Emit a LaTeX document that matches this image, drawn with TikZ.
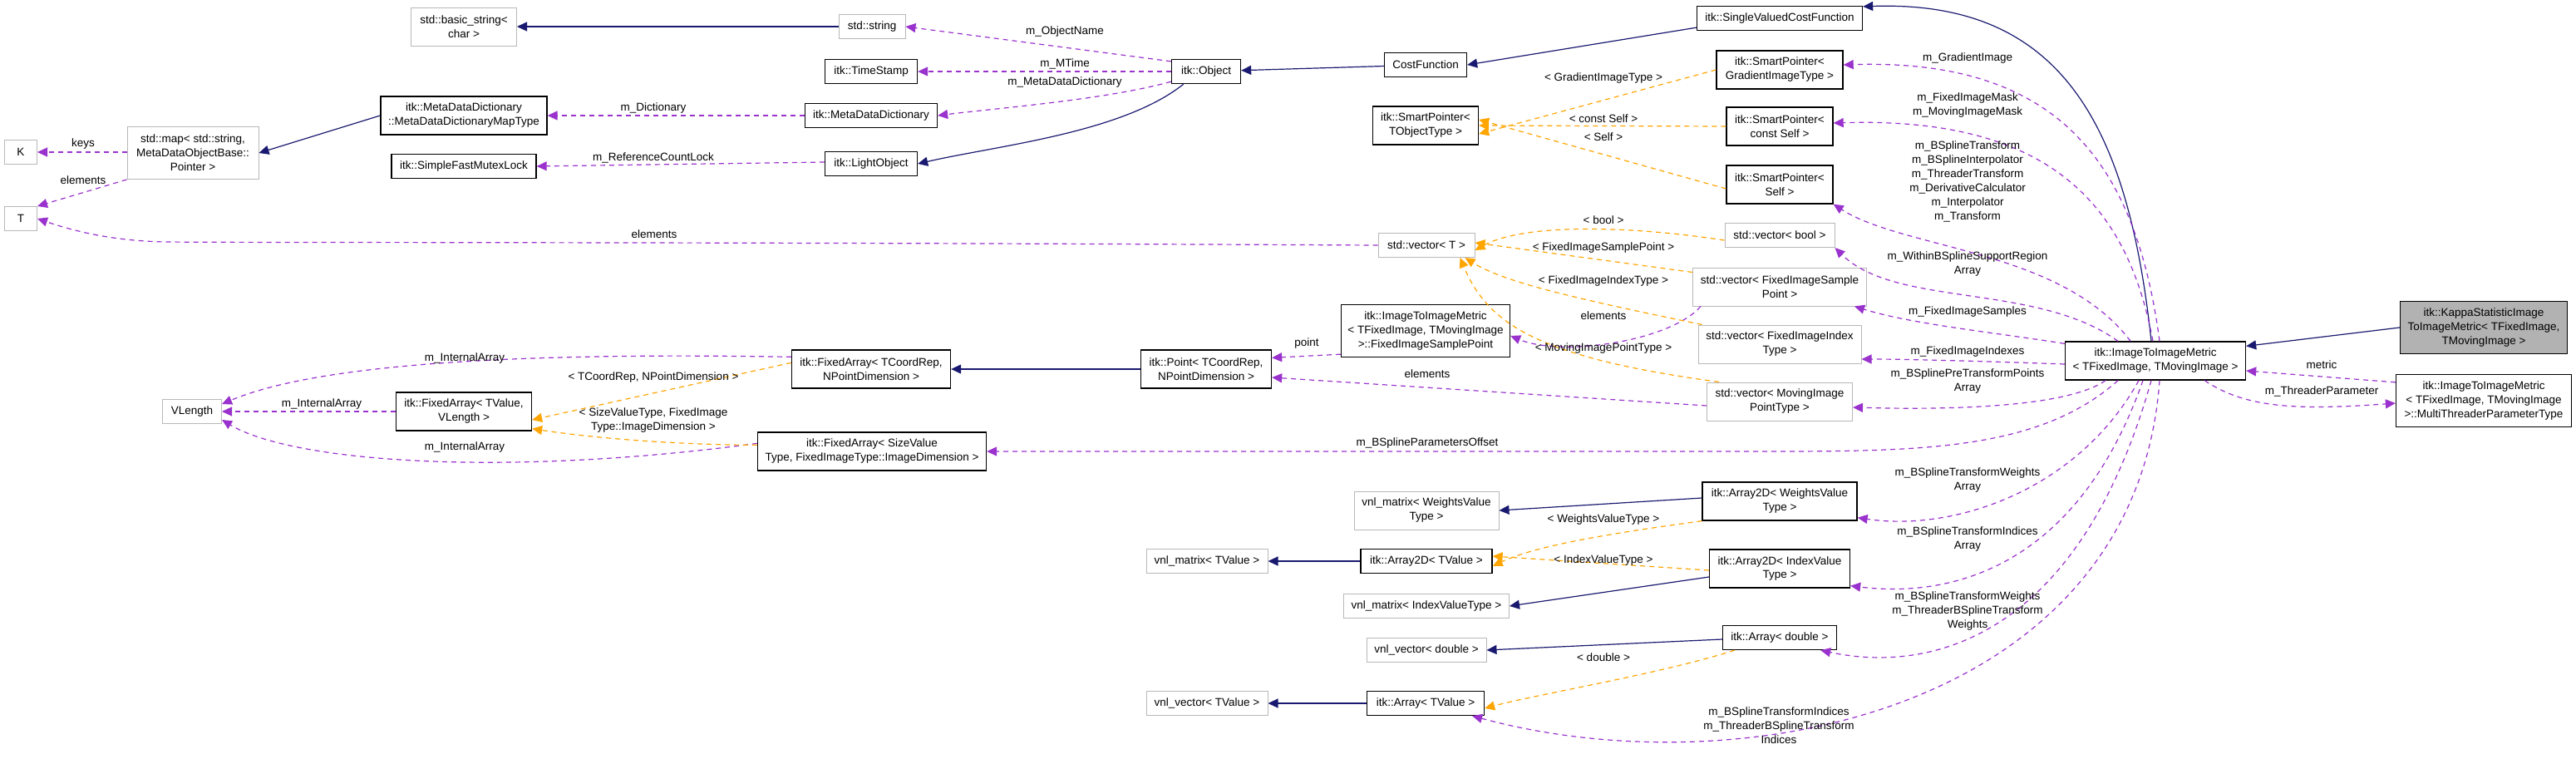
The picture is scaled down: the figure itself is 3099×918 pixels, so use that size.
\documentclass[tikz,border=0pt]{standalone}
\usepackage{fontspec}
\setmainfont{Liberation Sans}
\usetikzlibrary{arrows.meta}
\definecolor{navy}{HTML}{191970}
\definecolor{usec}{HTML}{9A32CD}
\definecolor{tplc}{HTML}{FFA500}
\tikzset{
 x=1pt,y=-1pt,
 box/.style={draw=black,line width=1.3pt,fill=white,align=center,inner sep=2pt,font=\fontsize{13.5}{17}\selectfont},
 gbox/.style={box,draw=black!28,line width=1pt},
 kbox/.style={box,fill=black!30},
 inh/.style={draw=navy,line width=1.2pt,-{Triangle[length=12pt,width=11pt]}},
 use/.style={draw=usec,line width=1.2pt,dash pattern=on 6pt off 5pt,-{Triangle[length=12pt,width=11pt]}},
 tpl/.style={draw=tplc,line width=1.2pt,dash pattern=on 6pt off 5pt,-{Triangle[length=12pt,width=11pt]}},
 lbl/.style={align=center,inner sep=0pt,font=\fontsize{13.5}{17}\selectfont},
}
\begin{document}
\begin{tikzpicture}
\useasboundingbox[fill=white] (0,0) rectangle (3099,918);
% nodes
\node[gbox,minimum width=127pt,minimum height=46pt] (bs) at (558,32) {std::basic\_string\textless\\char \textgreater};
\node[gbox,minimum width=80pt,minimum height=29pt] (str) at (1049,32) {std::string};
\node[box,minimum width=111pt,minimum height=29pt] (ts) at (1048,86) {itk::TimeStamp};
\node[box,minimum width=83pt,minimum height=29pt] (obj) at (1451,86) {itk::Object};
\node[box,minimum width=99pt,minimum height=29pt] (cf) at (1715,78) {CostFunction};
\node[box,minimum width=199pt,minimum height=29pt] (svcf) at (2141,22) {itk::SingleValuedCostFunction};
\node[box,minimum width=200pt,minimum height=46pt] (mt) at (558,139) {itk::MetaDataDictionary\\::MetaDataDictionaryMapType};
\node[box,minimum width=159pt,minimum height=29pt] (mdd) at (1048,139) {itk::MetaDataDictionary};
\node[gbox,minimum width=158pt,minimum height=63pt] (map) at (232,184) {std::map\textless{} std::string,\\MetaDataObjectBase::\\Pointer \textgreater};
\node[gbox,minimum width=39pt,minimum height=29pt] (K) at (25,183) {K};
\node[box,minimum width=174pt,minimum height=29pt] (mutex) at (558,200) {itk::SimpleFastMutexLock};
\node[box,minimum width=111pt,minimum height=29pt] (lo) at (1048,197) {itk::LightObject};
\node[gbox,minimum width=39pt,minimum height=29pt] (T) at (25,263) {T};
\node[box,minimum width=127pt,minimum height=46pt] (spo) at (1715,151) {itk::SmartPointer\textless\\TObjectType \textgreater};
\node[box,minimum width=152pt,minimum height=46pt] (spg) at (2141,84) {itk::SmartPointer\textless\\GradientImageType \textgreater};
\node[box,minimum width=128pt,minimum height=46pt] (spc) at (2141,152) {itk::SmartPointer\textless\\const Self \textgreater};
\node[box,minimum width=128pt,minimum height=46pt] (sps) at (2141,222) {itk::SmartPointer\textless\\Self \textgreater};
\node[gbox,minimum width=132pt,minimum height=29pt] (vb) at (2141,283) {std::vector\textless{} bool \textgreater};
\node[gbox,minimum width=116pt,minimum height=29pt] (vt) at (1716,295) {std::vector\textless{} T \textgreater};
\node[gbox,minimum width=209pt,minimum height=46pt] (vfisp) at (2141,345) {std::vector\textless{} FixedImageSample\\Point \textgreater};
\node[gbox,minimum width=196pt,minimum height=46pt] (vfii) at (2141,414) {std::vector\textless{} FixedImageIndex\\Type \textgreater};
\node[box,minimum width=203pt,minimum height=63pt] (fisp) at (1715,398) {itk::ImageToImageMetric\\\textless{} TFixedImage, TMovingImage\\\textgreater::FixedImageSamplePoint};
\node[box,minimum width=217pt,minimum height=46pt] (m) at (2593,434) {itk::ImageToImageMetric\\\textless{} TFixedImage, TMovingImage \textgreater};
\node[kbox,minimum width=201pt,minimum height=63pt] (kappa) at (2988,394) {itk::KappaStatisticImage\\ToImageMetric\textless{} TFixedImage,\\TMovingImage \textgreater};
\node[box,minimum width=157pt,minimum height=46pt] (pt) at (1451,444) {itk::Point\textless{} TCoordRep,\\NPointDimension \textgreater};
\node[box,minimum width=191pt,minimum height=46pt] (fac) at (1048,444) {itk::FixedArray\textless{} TCoordRep,\\NPointDimension \textgreater};
\node[box,minimum width=163pt,minimum height=46pt] (fav) at (558,495) {itk::FixedArray\textless{} TValue,\\VLength \textgreater};
\node[gbox,minimum width=71pt,minimum height=29pt] (vl) at (231,495) {VLength};
\node[box,minimum width=275pt,minimum height=46pt] (fas) at (1049,543) {itk::FixedArray\textless{} SizeValue\\Type, FixedImageType::ImageDimension \textgreater};
\node[gbox,minimum width=175pt,minimum height=46pt] (vmp) at (2141,483) {std::vector\textless{} MovingImage\\PointType \textgreater};
\node[box,minimum width=211pt,minimum height=63pt] (mtp) at (2988,482) {itk::ImageToImageMetric\\\textless{} TFixedImage, TMovingImage\\\textgreater::MultiThreaderParameterType};
\node[box,minimum width=186pt,minimum height=46pt] (a2w) at (2141,603) {itk::Array2D\textless{} WeightsValue\\Type \textgreater};
\node[gbox,minimum width=174pt,minimum height=46pt] (vmw) at (1716,614) {vnl\_matrix\textless{} WeightsValue\\Type \textgreater};
\node[box,minimum width=158pt,minimum height=29pt] (a2t) at (1716,675) {itk::Array2D\textless{} TValue \textgreater};
\node[gbox,minimum width=146pt,minimum height=29pt] (vmt) at (1452,675) {vnl\_matrix\textless{} TValue \textgreater};
\node[box,minimum width=169pt,minimum height=46pt] (a2i) at (2141,684) {itk::Array2D\textless{} IndexValue\\Type \textgreater};
\node[gbox,minimum width=199pt,minimum height=29pt] (vmi) at (1716,729) {vnl\_matrix\textless{} IndexValueType \textgreater};
\node[box,minimum width=137pt,minimum height=29pt] (ad) at (2141,767) {itk::Array\textless{} double \textgreater};
\node[gbox,minimum width=144pt,minimum height=29pt] (vd) at (1716,782) {vnl\_vector\textless{} double \textgreater};
\node[box,minimum width=141pt,minimum height=29pt] (at) at (1715,846) {itk::Array\textless{} TValue \textgreater};
\node[gbox,minimum width=146pt,minimum height=29pt] (vtv) at (1452,846) {vnl\_vector\textless{} TValue \textgreater};
% inheritance
\draw[inh] (str) -- (bs);
\draw[inh] (mt.west) -- (map.east);
\draw[inh] ([xshift=15pt]obj.south west) .. controls (1350,160) and (1200,175) .. (lo.east);
\draw[inh] (cf) -- (obj);
\draw[inh] ([yshift=4pt]svcf.south west) -- (cf.east);
\draw[inh] ([xshift=-5pt]m.north) .. controls (2560,150) and (2480,0) .. ([yshift=-1pt]svcf.north east);
\draw[inh] (kappa.west) -- ([yshift=-6pt]m.north east);
\draw[inh] (pt) -- (fac);
\draw[inh] ([yshift=4pt]a2w.west) -- (vmw.east);
\draw[inh] (a2t) -- (vmt);
\draw[inh] ([yshift=-10pt]a2i.west) -- (vmi.east);
\draw[inh] ([yshift=-2pt]ad.west) -- (vd.east);
\draw[inh] (at) -- (vtv);
% usage
\draw[use] ([yshift=-3pt]obj.north west) -- (str.east);
\draw[use] (obj.west) -- (ts.east);
\draw[use] ([yshift=3pt]obj.south west) .. controls (1330,120) and (1200,130) .. (mdd.east);
\draw[use] (mdd) -- (mt);
\draw[use] ([yshift=2pt]lo.west) -- (mutex.east);
\draw[use] ([yshift=0pt]map.west|-K) -- (K.east);
\draw[use] (map.south west) -- (T.north east);
\draw[use] (vt.west) .. controls (900,291) and (300,292) .. (200,291) .. controls (130,290) and (80,275) .. (T.east);
\draw[use] ([yshift=-9pt]fac.north west) .. controls (700,425) and (400,430) .. ([yshift=-6pt]vl.north east);
\draw[use] (fav) -- (vl);
\draw[use] ([yshift=-14pt]fas.north west) .. controls (600,575) and (350,555) .. ([yshift=5pt]vl.south east);
\draw[use] ([yshift=4pt]fisp.south west) -- ([yshift=-10pt]pt.north east);
\draw[use] ([xshift=10pt]vfisp.south west) .. controls (2010,410) and (1880,430) .. ([yshift=-6pt]fisp.east);
\draw[use] ([yshift=-5pt]vmp.west) -- ([yshift=-10pt]pt.east);
\draw[use] ([xshift=5pt]m.north) .. controls (2570,200) and (2480,70) .. ([yshift=6pt]spg.east);
\draw[use] ([xshift=-3pt]m.north) .. controls (2560,250) and (2470,140) .. ([yshift=4pt]spc.east);
\draw[use] ([xshift=-30pt]m.north) .. controls (2480,300) and (2290,300) .. (sps.south east);
\draw[use] ([xshift=-45pt]m.north) .. controls (2450,340) and (2280,370) .. (vb.south east);
\draw[use] ([yshift=-3pt]m.north west) .. controls (2400,400) and (2300,390) .. ([xshift=-15pt]vfisp.south east);
\draw[use] ([yshift=-4pt]m.west) .. controls (2400,435) and (2300,432) .. ([yshift=-18pt]vfii.east);
\draw[use] ([xshift=-60pt]m.south) .. controls (2480,495) and (2300,492) .. ([yshift=-7pt]vmp.east);
\draw[use] ([xshift=-45pt]m.south) .. controls (2450,545) and (2300,543) .. (2100,543) -- (fas.east);
\draw[use] ([xshift=-20pt]m.south) .. controls (2500,590) and (2350,640) .. ([yshift=4pt]a2w.south east);
\draw[use] ([xshift=-15pt]m.south) .. controls (2500,680) and (2350,720) .. ([yshift=3pt]a2i.south east);
\draw[use] ([xshift=-5pt]m.south) .. controls (2500,770) and (2320,810) .. ([xshift=-20pt]ad.south east);
\draw[use] ([xshift=5pt]m.south) .. controls (2570,850) and (2100,950) .. ([xshift=-15pt]at.south east);
\draw[use] ([yshift=-10pt]mtp.north west) -- ([yshift=-12pt]m.east);
\draw[use] ([xshift=-50pt]m.south east) .. controls (2700,490) and (2760,494) .. ([yshift=-3pt]mtp.west);
% template
\draw[tpl] ([yshift=0pt]spg.west) -- ([yshift=-10pt]spo.east);
\draw[tpl] (spc.west) -- (spo.east);
\draw[tpl] ([yshift=-5pt]sps.west) -- ([yshift=7pt]spo.east);
\draw[tpl] ([yshift=-6pt]vb.west) .. controls (1950,270) and (1830,270) .. ([yshift=-6pt]vt.east);
\draw[tpl] ([yshift=-6pt]vfisp.north west) -- ([yshift=3pt]vt.east);
\draw[tpl] ([xshift=5pt]vfii.north west) .. controls (1900,360) and (1810,340) .. ([xshift=-12pt]vt.south east);
\draw[tpl] ([xshift=15pt]vmp.north west) .. controls (1850,430) and (1790,390) .. ([xshift=-18pt]vt.south east);
\draw[tpl] ([yshift=-16pt]fac.north west) -- ([yshift=-10pt]fav.east);
\draw[tpl] ([yshift=-16pt]fas.north west) .. controls (800,535) and (700,525) .. ([yshift=3pt]fav.south east);
\draw[tpl] (a2w.south west) .. controls (1950,640) and (1850,655) .. ([yshift=-6pt]a2t.east);
\draw[tpl] ([yshift=-2pt]a2i.west) -- ([yshift=6pt]a2t.east);
\draw[tpl] ([xshift=15pt]ad.south west) .. controls (2000,810) and (1850,835) .. ([yshift=-6pt]at.east);
% labels
\node[lbl] (l1) at (1281,38) {m\_ObjectName};
\node[lbl] (l2) at (1281,77) {m\_MTime};
\node[lbl] (l3) at (1281,99) {m\_MetaDataDictionary};
\node[lbl] (l4) at (786,130) {m\_Dictionary};
\node[lbl] (l5) at (786,190) {m\_ReferenceCountLock};
\node[lbl] (l6) at (100,173) {keys};
\node[lbl] (l7) at (100,217) {elements};
\node[lbl] (l8) at (787,282) {elements};
\node[lbl] (l9) at (559,431) {m\_InternalArray};
\node[lbl] (l10) at (387,486) {m\_InternalArray};
\node[lbl] (l11) at (559,538) {m\_InternalArray};
\node[lbl] (l12) at (786,454) {\textless{} TCoordRep, NPointDimension \textgreater};
\node[lbl] (l13) at (786,506) {\textless{} SizeValueType, FixedImage\\Type::ImageDimension \textgreater};
\node[lbl] (l14) at (1572,413) {point};
\node[lbl] (l15) at (1929,380) {elements};
\node[lbl] (l16) at (1717,450) {elements};
\node[lbl] (l17) at (1929,94) {\textless{} GradientImageType \textgreater};
\node[lbl] (l18) at (1929,143) {\textless{} const Self \textgreater};
\node[lbl] (l19) at (1929,165) {\textless{} Self \textgreater};
\node[lbl] (l20) at (1929,265) {\textless{} bool \textgreater};
\node[lbl] (l21) at (1929,298) {\textless{} FixedImageSamplePoint \textgreater};
\node[lbl] (l22) at (1929,338) {\textless{} FixedImageIndexType \textgreater};
\node[lbl] (l23) at (1929,419) {\textless{} MovingImagePointType \textgreater};
\node[lbl] (l24) at (2367,70) {m\_GradientImage};
\node[lbl] (l25) at (2367,127) {m\_FixedImageMask\\m\_MovingImageMask};
\node[lbl] (l26) at (2367,218) {m\_BSplineTransform\\m\_BSplineInterpolator\\m\_ThreaderTransform\\m\_DerivativeCalculator\\m\_Interpolator\\m\_Transform};
\node[lbl] (l27) at (2367,318) {m\_WithinBSplineSupportRegion\\Array};
\node[lbl] (l28) at (2367,375) {m\_FixedImageSamples};
\node[lbl] (l29) at (2367,423) {m\_FixedImageIndexes};
\node[lbl] (l30) at (2367,459) {m\_BSplinePreTransformPoints\\Array};
\node[lbl] (l31) at (1717,533) {m\_BSplineParametersOffset};
\node[lbl] (l32) at (2367,578) {m\_BSplineTransformWeights\\Array};
\node[lbl] (l33) at (1929,625) {\textless{} WeightsValueType \textgreater};
\node[lbl] (l34) at (1929,674) {\textless{} IndexValueType \textgreater};
\node[lbl] (l35) at (1929,791) {\textless{} double \textgreater};
\node[lbl] (l36) at (2367,649) {m\_BSplineTransformIndices\\Array};
\node[lbl] (l37) at (2367,735) {m\_BSplineTransformWeights\\m\_ThreaderBSplineTransform\\Weights};
\node[lbl] (l38) at (2140,873) {m\_BSplineTransformIndices\\m\_ThreaderBSplineTransform\\Indices};
\node[lbl] (l39) at (2793,439) {metric};
\node[lbl] (l40) at (2793,471) {m\_ThreaderParameter};
\end{tikzpicture}
\end{document}
